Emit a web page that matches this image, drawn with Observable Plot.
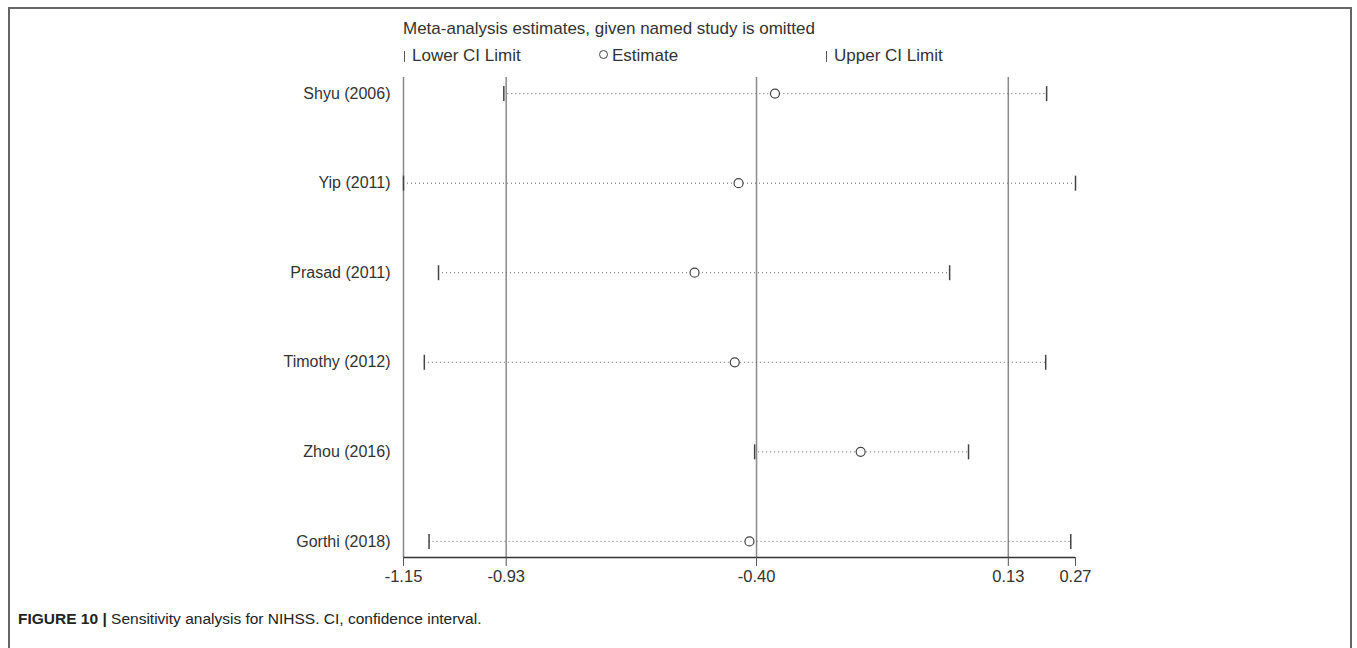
<!DOCTYPE html>
<html>
<head>
<meta charset="utf-8">
<script src="https://cdn.jsdelivr.net/npm/d3@7"></script>
<script src="https://cdn.jsdelivr.net/npm/@observablehq/plot@0.6"></script>
<style>
  html, body { margin: 0; padding: 0; background: #fff; }
  body { width: 1357px; height: 648px; position: relative; overflow: hidden; font-family: "Liberation Sans", Arial, sans-serif; }
  #frame { position: absolute; left: 8px; top: 7px; width: 1344px; height: 700px; border: 2px solid #666; box-sizing: border-box; }
  #title { position: absolute; left: 403px; top: 19px; font-size: 17px; color: #333; white-space: nowrap; }
  .leg { position: absolute; top: 46px; font-size: 17px; color: #333; white-space: nowrap; }
  .bar { display: inline-block; width: 0; height: 11px; border-left: 1px solid #555; margin-right: 7px; vertical-align: -1px; }
  .circ { display: inline-block; width: 7px; height: 7px; border: 1px solid #444; border-radius: 50%; margin-right: 4px; vertical-align: 2px; }
  #chart { position: absolute; left: 0; top: 70px; }
  #caption { position: absolute; left: 18px; top: 610px; font-size: 15.5px; color: #222; white-space: nowrap; }
  #caption b { font-weight: bold; }
</style>
</head>
<body>
<div id="frame"></div>
<div id="title">Meta-analysis estimates, given named study is omitted</div>
<div class="leg" style="left:404px"><span class="bar"></span>Lower CI Limit</div>
<div class="leg" style="left:599px"><span class="circ"></span>Estimate</div>
<div class="leg" style="left:826px"><span class="bar"></span>Upper CI Limit</div>
<div id="chart"></div>
<div id="caption"><b>FIGURE 10 |</b> Sensitivity analysis for NIHSS. CI, confidence interval.</div>
<script>
const studies = ["Shyu (2006)", "Yip (2011)", "Prasad (2011)", "Timothy (2012)", "Zhou (2016)", "Gorthi (2018)"];
const lowerCI = [-0.938, -1.15, -1.076, -1.106, -0.408, -1.096];
const estimate = [-0.365, -0.442, -0.535, -0.450, -0.184, -0.419];
const upperCI = [0.209, 0.27, 0.004, 0.207, 0.044, 0.260];
const xTicks = [-1.15, -0.933, -0.404, 0.128, 0.27];
const refLines = [-0.933, -0.404, 0.128];
const xDomain = [-1.15, 0.27];
const yDomain = [-0.18, 5.18];

const rows = studies.map((s, i) => ({study: s, i, lower: lowerCI[i], est: estimate[i], upper: upperCI[i]}));

const vbar = {
  draw(context, size) {
    const h = 7.5;
    context.moveTo(0, -h);
    context.lineTo(0, h);
  }
};

const chart = Plot.plot({
  width: 1357,
  height: 530,
  marginLeft: 403,
  marginRight: 282,
  marginTop: 7,
  marginBottom: 43,
  style: {fontFamily: "'Liberation Sans', Arial, sans-serif", fontSize: "16px", color: "#333", background: "transparent"},
  x: {domain: xDomain},
  y: {domain: yDomain, reverse: true},
  marks: [
    Plot.ruleX(refLines, {stroke: "#8a8a8a", strokeWidth: 1.5}),
    Plot.ruleX([xDomain[0]], {stroke: "#8a8a8a", strokeWidth: 1.5}),
    Plot.ruleY(rows, {x1: "lower", x2: "upper", y: "i", stroke: "#666", strokeWidth: 1, strokeDasharray: "1,3"}),
    Plot.dot(rows, {x: "lower", y: "i", symbol: vbar, stroke: "#444", strokeWidth: 1.5, fill: "none"}),
    Plot.dot(rows, {x: "upper", y: "i", symbol: vbar, stroke: "#444", strokeWidth: 1.5, fill: "none"}),
    Plot.dot(rows, {x: "est", y: "i", r: 4.5, stroke: "#444", strokeWidth: 1.2, fill: "white"}),
    Plot.ruleY([yDomain[1]], {x1: xDomain[0], x2: xDomain[1], stroke: "#333", strokeWidth: 1.5}),
    Plot.axisX(xTicks, {tickSize: 9, tickPadding: 4, tickFormat: d => d.toFixed(2), stroke: "#555", color: "#333", fontSize: 16.5, label: null}),
    Plot.axisY(rows.map(d => d.i), {tickSize: 0, tickPadding: 13, tickFormat: i => studies[i], fontSize: 16, label: null})
  ]
});
document.getElementById("chart").appendChild(chart);
</script>
</body>
</html>
